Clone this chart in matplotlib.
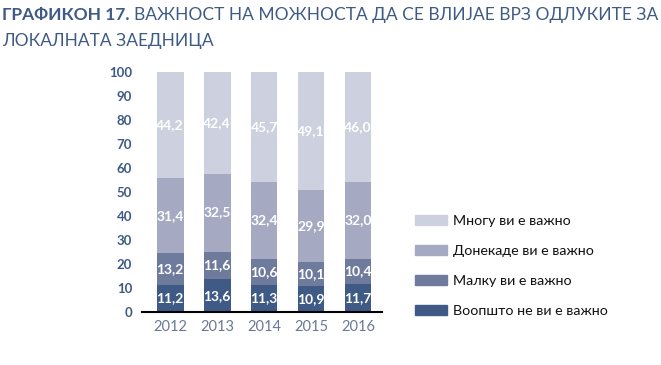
import matplotlib
matplotlib.use("Agg")
import matplotlib.pyplot as plt
from matplotlib.patches import Patch

years = ["2012", "2013", "2014", "2015", "2016"]
voopsto = [11.2, 13.6, 11.3, 10.9, 11.7]
malku = [13.2, 11.6, 10.6, 10.1, 10.4]
donekade = [31.4, 32.5, 32.4, 29.9, 32.0]
mnogu = [44.2, 42.4, 45.7, 49.1, 46.0]
series = [voopsto, malku, donekade, mnogu]
labels = ["Воопшто не ви е важно", "Малку ви е важно", "Донекаде ви е важно", "Многу ви е важно"]
colors = ["#3e5a85", "#6f7b9d", "#a5aac2", "#cdd0de"]
yticks = [0, 10, 20, 30, 40, 50, 60, 70, 80, 90, 100]

W, H = 661, 365
fig = plt.figure(figsize=(W / 100, H / 100), dpi=100)
ax = fig.add_axes([142 / W, 1 - 312 / H, 240 / W, 240 / H])

x = list(range(len(years)))
bottom = [0] * len(years)
handles = []
for vals, lab, col in zip(series, labels, colors):
    ax.bar(x, vals, width=0.57, bottom=bottom, color=col, linewidth=0)
    for xi, b, v in zip(x, bottom, vals):
        ax.text(xi, b + v / 2, f"{v:.1f}".replace(".", ","), ha="center", va="center",
                color="white", fontsize=10, family="Lato", fontweight="bold")
    bottom = [b + v for b, v in zip(bottom, vals)]
    handles.append(Patch(color=col, label=lab))

ax.set_xlim(-0.6, 4.51)
ax.set_ylim(0, 100)
ax.set_yticks(yticks)
ax.set_yticklabels([str(t) for t in yticks], fontsize=9.5, family="Lato",
                   fontweight="bold", color="#3e5a85")
ax.set_xticks(x)
ax.set_xticklabels(years, fontsize=10.5, family="Lato", color="#6a7896")
ax.tick_params(length=0, axis="y", pad=7)
ax.tick_params(length=0, axis="x", pad=6)
for s in ["top", "right", "left"]:
    ax.spines[s].set_visible(False)
ax.spines["bottom"].set_linewidth(1.5)
ax.spines["bottom"].set_color("black")

leg = fig.legend(handles=handles[::-1], loc="upper left",
                 bbox_to_anchor=(402 / W, 1 - 202 / H), frameon=False,
                 prop={"family": "Lato", "size": 10.3}, labelspacing=1.27,
                 handlelength=2.24, handleheight=0.7, handletextpad=0.45)
for t in leg.get_texts():
    t.set_color("#111111")

tfont = ["Lato"]
t1 = fig.text(2 / W, 1 - 15 / H, "ГРАФИКОН 17.", fontsize=12.5, fontweight="bold",
              color="#3e5a85", family=tfont, va="center")
fig.canvas.draw()
bb = t1.get_window_extent()
fig.text((bb.x1 + 4) / W, 1 - 15 / H, "ВАЖНОСТ НА МОЖНОСТА ДА СЕ ВЛИЈАЕ ВРЗ ОДЛУКИТЕ ЗА",
         fontsize=12.5, color="#3e5a85", family=tfont, va="center")
fig.text(2 / W, 1 - 41 / H, "ЛОКАЛНАТА ЗАЕДНИЦА", fontsize=12.5, color="#3e5a85",
         family=tfont, va="center")

fig.savefig("out.png", dpi=100)
